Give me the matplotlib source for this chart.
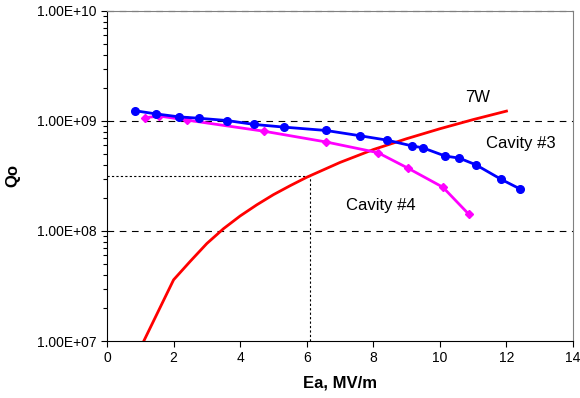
import matplotlib
matplotlib.use("Agg")
import matplotlib.pyplot as plt
from matplotlib.ticker import LogLocator, FixedLocator

plt.rcParams["font.family"] = ["Liberation Sans", "DejaVu Sans"]

# Cavity #3 (blue)
ea_cav3 = [0.84, 1.47, 2.17, 2.75, 3.6, 4.43, 5.31, 6.58, 7.59, 8.41, 9.15, 9.49,
           10.16, 10.58, 11.08, 11.84, 12.42]
qo_cav3 = [1.24e9, 1.16e9, 1.09e9, 1.06e9, 1.01e9, 9.3e8, 8.8e8, 8.2e8, 7.35e8, 6.7e8,
           5.95e8, 5.7e8, 4.8e8, 4.6e8, 4.0e8, 2.95e8, 2.4e8]

# Cavity #4 (magenta)
ea_cav4 = [1.14, 1.57, 2.39, 4.73, 6.59, 8.14, 9.03, 10.09, 10.86]
qo_cav4 = [1.07e9, 1.11e9, 1.02e9, 8.06e8, 6.44e8, 5.15e8, 3.74e8, 2.5e8, 1.43e8]

# 7W line (red)
ea_7w = [1.0, 2.0, 2.5, 3.0, 3.5, 4.0, 4.5, 5.0, 5.5, 6.0, 7.0, 8.0, 9.0, 10.0, 11.0, 12.0]
qo_7w = [8.6e6, 3.6e7, 5.3e7, 7.7e7, 1.05e8, 1.37e8, 1.73e8, 2.14e8, 2.58e8, 3.08e8,
         4.2e8, 5.5e8, 6.9e8, 8.5e8, 1.03e9, 1.23e9]

# operating point marker lines
ea_op = 6.1
qo_op = 3.16e8

x_ticks = [0, 2, 4, 6, 8, 10, 12, 14]
y_ticks = [1e7, 1e8, 1e9, 1e10]
y_labels = ["1.00E+07", "1.00E+08", "1.00E+09", "1.00E+10"]

fig = plt.figure(figsize=(5.8, 3.98), dpi=100)
ax = fig.add_axes([0.1845, 0.1432, 0.8035, 0.8292])

ax.set_yscale("log")
ax.set_xlim(0, 14)
ax.set_ylim(1e7, 1e10)

# grid lines only at the decades
for q in y_ticks[1:]:
    ax.axhline(q, color="black", lw=0.8, ls=(0, (6, 5)), zorder=1, clip_on=False)

ax.plot([0, ea_op], [qo_op, qo_op], color="black", lw=0.8, ls=(0, (2, 2)), zorder=1)
ax.plot([ea_op, ea_op], [1e7, qo_op], color="black", lw=0.8, ls=(0, (2, 2)), zorder=1)

ax.plot(ea_7w, qo_7w, color="#ff0000", lw=2, zorder=2)
ax.plot(ea_cav4, qo_cav4, color="#ff00ff", lw=2, marker="D", ms=4.5, zorder=3)
ax.plot(ea_cav3, qo_cav3, color="#0000ff", lw=2, marker="o", ms=5.5, zorder=4)

ax.text(11.13, 1.65e9, "7W", fontsize=12, ha="center", va="center")
ax.text(12.43, 6.3e8, "Cavity #3", fontsize=12, ha="center", va="center")
ax.text(8.22, 1.72e8, "Cavity #4", fontsize=12, ha="center", va="center")

ax.xaxis.set_major_locator(FixedLocator(x_ticks))
ax.set_xticklabels([str(t) for t in x_ticks])
ax.yaxis.set_major_locator(FixedLocator(y_ticks))
ax.set_yticklabels(y_labels)
ax.yaxis.set_minor_locator(LogLocator(base=10, subs=range(2, 10)))
ax.yaxis.set_minor_formatter(plt.NullFormatter())
ax.tick_params(axis="both", which="major", direction="out", length=4, width=0.8,
               labelsize=10, colors="black")
ax.tick_params(axis="y", which="minor", direction="out", length=3, width=0.8)

for side in ("top", "right"):
    ax.spines[side].set_color("#808080")
    ax.spines[side].set_linewidth(0.8)
for side in ("left", "bottom"):
    ax.spines[side].set_color("black")
    ax.spines[side].set_linewidth(0.8)

ax.set_xlabel("Ea, MV/m", fontsize=12, fontweight="bold", labelpad=7)
ax.set_ylabel("Qo", fontsize=12, fontweight="bold", labelpad=12)

fig.savefig("out.png", dpi=100)
